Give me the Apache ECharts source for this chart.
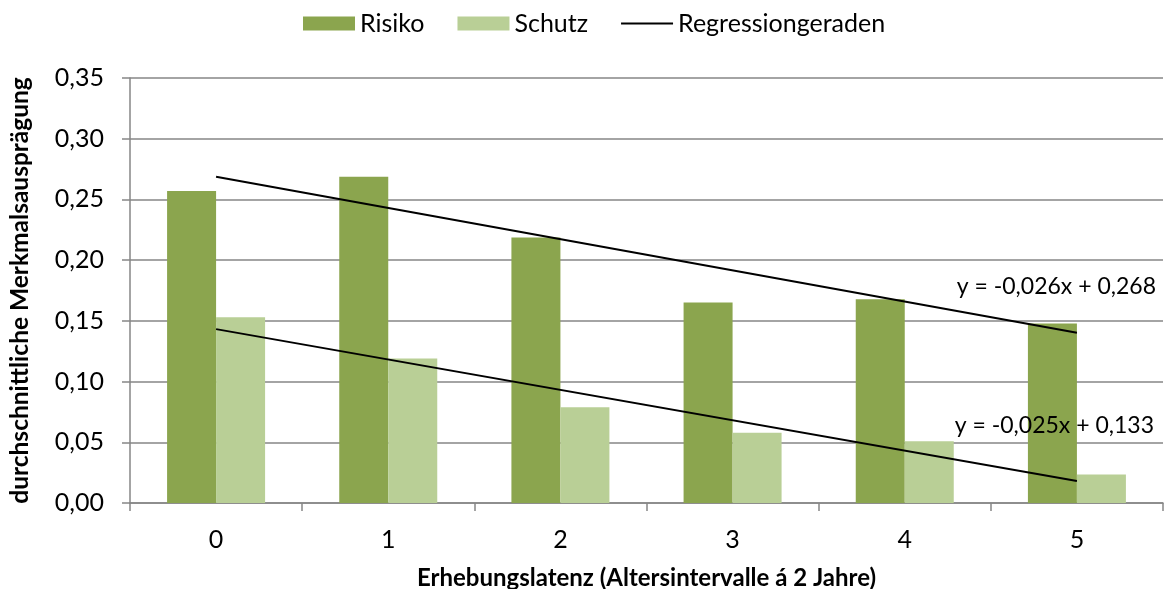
<!DOCTYPE html>
<html>
<head>
<meta charset="utf-8">
<script src="https://cdn.jsdelivr.net/npm/echarts@6/dist/echarts.min.js"></script>
<style>html,body{margin:0;padding:0;background:#fff;}#c{width:1171px;height:589px;}</style>
</head>
<body>
<div id="c"></div>
<script>
var categories = ['0', '1', '2', '3', '4', '5'];
var risiko = [0.257, 0.2686, 0.2187, 0.1652, 0.1677, 0.1479];
var schutz = [0.1529, 0.1191, 0.0789, 0.0579, 0.0508, 0.0234];
var regRisiko = [0.2686, null, null, null, null, 0.1402];
var regSchutz = [0.1432, null, null, null, null, 0.0181];
var yTicks = { min: 0, max: 0.35, interval: 0.05 };
var eqRisiko = 'y = -0,026x + 0,268';
var eqSchutz = 'y = -0,025x + 0,133';

var FONT = 'Lato';
var chart = echarts.init(document.getElementById('c'));
chart.setOption({
  animation: false,
  textStyle: { fontFamily: FONT },
  legend: {
    left: 303, top: 11, padding: 0, itemGap: 33,
    itemWidth: 52, itemHeight: 14, symbolKeepAspect: true,
    textStyle: { fontFamily: FONT, fontSize: 25, color: '#000' },
    data: [
      { name: 'Risiko', icon: 'rect' },
      { name: 'Schutz', icon: 'rect' },
      { name: 'Regressiongeraden', icon: 'path://M0,0H52V2H0Z' }
    ]
  },
  grid: { left: 130, right: 8, top: 78, bottom: 86, containLabel: false, outerBoundsMode: 'none' },
  xAxis: {
    type: 'category', data: categories,
    name: 'Erhebungslatenz (Altersintervalle á 2 Jahre)',
    nameLocation: 'middle', nameGap: 63,
    nameTextStyle: { fontFamily: FONT, fontSize: 24, fontWeight: 'bold', color: '#000' },
    axisLine: { lineStyle: { color: '#868686', width: 1.5 } },
    axisTick: { show: true, length: 8, lineStyle: { color: '#868686', width: 1.5 } },
    axisLabel: { fontSize: 25, color: '#000', margin: 24 }
  },
  yAxis: {
    type: 'value', min: yTicks.min, max: yTicks.max, interval: yTicks.interval,
    name: 'durchschnittliche Merkmalsausprägung',
    nameLocation: 'middle', nameGap: 97, nameRotate: 90,
    nameTextStyle: { fontFamily: FONT, fontSize: 24.5, fontWeight: 'bold', color: '#000' },
    axisLine: { show: true, lineStyle: { color: '#868686', width: 1.5 } },
    axisTick: { show: true, length: 8, lineStyle: { color: '#868686', width: 1.5 } },
    splitLine: { lineStyle: { color: '#868686', width: 1.5 } },
    axisLabel: {
      fontSize: 25, color: '#000', margin: 26,
      formatter: function (v) { return v.toFixed(2).replace('.', ','); }
    }
  },
  series: [
    { name: 'Risiko', type: 'bar', data: risiko, barWidth: 49, barGap: '0%',
      itemStyle: { color: '#8BA54E' } },
    { name: 'Schutz', type: 'bar', data: schutz, barWidth: 49, barGap: '0%',
      itemStyle: { color: '#B9CF96' } },
    { name: 'Regressiongeraden', type: 'line', data: regRisiko, connectNulls: true,
      symbol: 'none', lineStyle: { color: '#000', width: 2 }, itemStyle: { color: '#000' }, z: 5 },
    { name: 'Regressiongeraden', type: 'line', data: regSchutz, connectNulls: true,
      symbol: 'none', lineStyle: { color: '#000', width: 2 }, itemStyle: { color: '#000' }, z: 5 }
  ],
  graphic: [
    { type: 'text', right: 15, top: 275, z: 100, style: { text: eqRisiko, fontFamily: FONT, fontSize: 23, fill: '#000' } },
    { type: 'text', right: 17, top: 414, z: 100, style: { text: eqSchutz, fontFamily: FONT, fontSize: 23, fill: '#000' } }
  ]
});
</script>
</body>
</html>
